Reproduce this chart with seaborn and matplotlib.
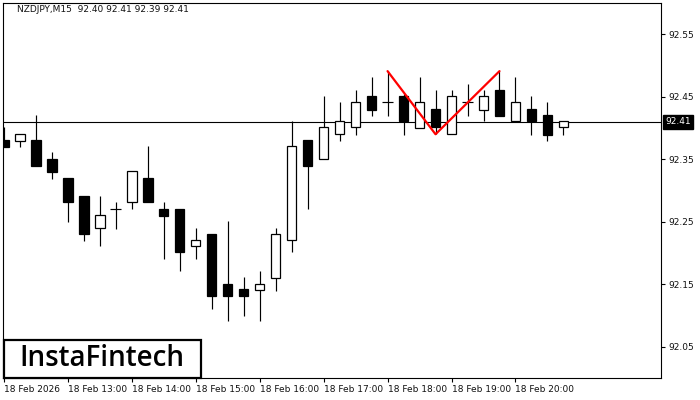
import matplotlib
matplotlib.use("Agg")
import matplotlib.pyplot as plt
from matplotlib.patches import Rectangle
import numpy as np
import pandas as pd
import seaborn as sns

# ---------------- data ----------------
title_text = "NZDJPY,M15  92.40 92.41 92.39 92.41"
opens = [92.381, 92.380, 92.381, 92.351, 92.320, 92.292, 92.240, 92.271, 92.281, 92.320,
         92.271, 92.271, 92.211, 92.231, 92.151, 92.142, 92.141, 92.160, 92.221, 92.381,
         92.350, 92.390, 92.401, 92.451, 92.441, 92.451, 92.400, 92.430, 92.390, 92.441,
         92.429, 92.461, 92.411, 92.430, 92.421, 92.401]
highs = [92.402, 92.390, 92.421, 92.362, 92.320, 92.292, 92.291, 92.282, 92.331, 92.371,
         92.282, 92.271, 92.240, 92.231, 92.252, 92.161, 92.172, 92.240, 92.411, 92.381,
         92.451, 92.442, 92.461, 92.481, 92.491, 92.455, 92.481, 92.461, 92.461, 92.470,
         92.461, 92.491, 92.481, 92.451, 92.442, 92.411]
lows = [92.370, 92.370, 92.340, 92.319, 92.250, 92.220, 92.211, 92.239, 92.270, 92.281,
        92.190, 92.171, 92.190, 92.110, 92.091, 92.100, 92.091, 92.140, 92.202, 92.270,
        92.350, 92.380, 92.389, 92.420, 92.420, 92.389, 92.400, 92.390, 92.390, 92.420,
        92.411, 92.420, 92.411, 92.389, 92.380, 92.389]
closes = [92.370, 92.390, 92.340, 92.330, 92.281, 92.230, 92.261, 92.271, 92.331, 92.281,
          92.260, 92.201, 92.221, 92.131, 92.131, 92.131, 92.151, 92.231, 92.371, 92.340,
          92.401, 92.411, 92.441, 92.429, 92.441, 92.411, 92.441, 92.401, 92.451, 92.441,
          92.451, 92.420, 92.441, 92.411, 92.389, 92.411]
x_tick_pos = [0, 4, 8, 12, 16, 20, 24, 28, 32]
x_tick_labels = ["18 Feb 2026", "18 Feb 13:00", "18 Feb 14:00", "18 Feb 15:00",
                 "18 Feb 16:00", "18 Feb 17:00", "18 Feb 18:00", "18 Feb 19:00",
                 "18 Feb 20:00"]
y_ticks = [92.05, 92.15, 92.25, 92.35, 92.45, 92.55]
current_price = 92.41
pattern_idx = [24, 27, 31]
pattern_price = [92.491, 92.390, 92.491]

# ---------------- style ----------------
sns.set_theme(style="white")
plt.rcParams['font.family'] = ['DejaVu Sans']

df = pd.DataFrame({"o": opens, "h": highs, "l": lows, "c": closes})
df["i"] = np.arange(len(df))

fig = plt.figure(figsize=(7, 4), dpi=100)
fig.patch.set_facecolor("white")
ax = fig.add_axes([3 / 700, 22 / 400, 658 / 700, 375 / 400])
ax.set_facecolor("white")

# current price line
ax.axhline(current_price, color="black", lw=0.8, zorder=1)

# wicks
ax.vlines(df["i"], df["l"], df["h"], color="black", lw=0.85, zorder=2)

# bodies
bw = 0.6
up = df[df["c"] > df["o"]]
dn = df[df["c"] < df["o"]]
dj = df[df["c"] == df["o"]]
ax.bar(up["i"], up["c"] - up["o"], bottom=up["o"], width=bw,
       facecolor="white", edgecolor="black", linewidth=0.9, zorder=3)
ax.bar(dn["i"], dn["o"] - dn["c"], bottom=dn["c"], width=bw,
       facecolor="black", edgecolor="black", linewidth=0.9, zorder=3)
ax.hlines(dj["o"], dj["i"] - bw / 2 - 0.03, dj["i"] + bw / 2 + 0.03,
          color="black", lw=0.85, zorder=3)

# pattern line (double top)
pat = pd.DataFrame({"x": pattern_idx, "y": pattern_price})
sns.lineplot(data=pat, x="x", y="y", color="#ff0000", lw=1.6, ax=ax,
             sort=False, zorder=5)

ax.set_xlim(-0.05, 41.1)
ax.set_ylim(92.0, 92.60)
ax.set_xlabel("")
ax.set_ylabel("")

for s in ax.spines.values():
    s.set_color("black")
    s.set_linewidth(0.8)

ax.yaxis.tick_right()
ax.set_yticks(y_ticks)
ax.set_yticklabels([f"{v:.2f}" for v in y_ticks], fontsize=6.5, color="#111111")
ax.tick_params(axis="y", which="both", right=True, direction="out", length=3,
               width=0.8, color="black", pad=2)

ax.set_xticks(x_tick_pos)
ax.set_xticklabels(x_tick_labels, fontsize=6.5, color="#111111", ha="left")
ax.tick_params(axis="x", which="both", bottom=True, direction="out", length=3,
               width=0.8, color="black", pad=2)
for lab in ax.get_xticklabels():
    lab.set_horizontalalignment("left")

# price tag
ax.annotate(f"{current_price:.2f}", xy=(1.0, current_price),
            xycoords=("axes fraction", "data"), xytext=(3, 0),
            textcoords="offset points", ha="left", va="center",
            fontsize=6.5, color="white",
            bbox=dict(boxstyle="square,pad=0.25", fc="black", ec="black"))

# title
fig.text(17 / 700, 1 - 10 / 400, title_text, fontsize=6.5, color="#111111",
         ha="left", va="center")

# logo box
rect = Rectangle((4 / 700, 22 / 400), 197 / 700, 38 / 400,
                 transform=fig.transFigure, facecolor="white",
                 edgecolor="black", linewidth=1.6, zorder=10)
fig.patches.append(rect)
fig.text(102 / 700, 1 - 359 / 400, "InstaFintech", fontsize=20, fontweight="semibold",
         family=["Open Sans", "DejaVu Sans"], color="black",
         ha="center", va="center", zorder=11)

fig.savefig("out.png", dpi=100)
